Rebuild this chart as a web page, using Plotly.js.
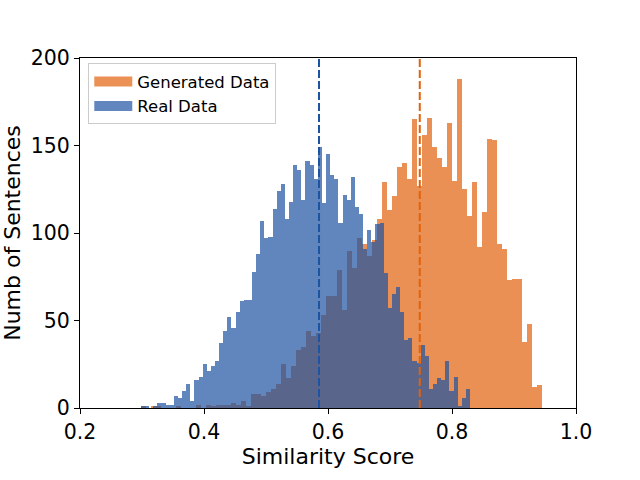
<!DOCTYPE html>
<html>
<head>
<meta charset="utf-8">
<script src="https://cdn.plot.ly/plotly-3.0.1.min.js"></script>
<style>
  html, body { margin: 0; padding: 0; background: #ffffff; }
  #similarity-graph { width: 640px; height: 480px; }
</style>
</head>
<body>
<div id="similarity-graph"></div>
<script>
// Constants
const SIMILARITY_GRAPH_ELEM_ID = "similarity-graph";
const FONT_FAMILY = "DejaVu Sans, Liberation Sans, sans-serif";

const GENERATED_COLOR = "rgb(226,98,12)";
const REAL_COLOR = "rgb(29,84,162)";
const BAR_OPACITY = 0.7;

// Data

// Counts per bin (80 bins each)
const generatedCounts = [
  1, 0, 1, 1, 0, 0, 0, 1, 0, 0, 0, 2, 0, 2, 1, 2, 2, 2, 3, 2,
  4, 1, 8, 8, 7, 9, 11, 14, 25, 17, 24, 33, 35, 44, 41, 43, 53, 64, 64, 79,
  56, 90, 80, 97, 94, 87, 96, 108, 129, 113, 121, 138, 140, 131, 165, 127, 156, 166, 149, 143,
  138, 163, 130, 188, 125, 110, 129, 92, 112, 154, 153, 94, 91, 73, 74, 74, 38, 48, 12, 13,
];
const realCounts = [
  1, 1, 0, 1, 3, 3, 2, 2, 7, 6, 10, 14, 4, 16, 18, 25, 21, 24, 27, 37,
  44, 52, 46, 55, 61, 62, 62, 78, 88, 107, 97, 98, 114, 124, 128, 108, 118, 139, 136, 119,
  141, 139, 131, 149, 117, 145, 133, 131, 106, 122, 119, 132, 115, 111, 91, 102, 95, 105, 106, 77,
  57, 65, 69, 55, 39, 40, 27, 26, 36, 30, 11, 14, 17, 16, 27, 10, 18, 1, 6, 11,
];

// First and last bin edge of each histogram
const generatedRange = [0.2984, 0.9452];
const realRange = [0.2984, 0.829];

// Mean similarity (dashed lines)
const generatedMean = 0.748;
const realMean = 0.5855;

const seriesNames = ["Generated Data", "Real Data"];

const xTickVals = [0.2, 0.4, 0.6, 0.8, 1.0];
const xTickText = ["0.2", "0.4", "0.6", "0.8", "1.0"];
const yTickVals = [0, 50, 100, 150, 200];

// Helpers

/**
 * @description Bin centres and bin width of a histogram from its edge range
 */
function binLayout(range, counts) {
  const size = (range[1] - range[0]) / counts.length;
  const centers = counts.map((_, i) => range[0] + size * (i + 0.5));
  return { centers, size };
}

/**
 * @description Bar trace that draws one histogram
 */
function histogramTrace(name, range, counts, color) {
  const bins = binLayout(range, counts);
  return {
    type: "bar",
    name: name,
    x: bins.centers,
    y: counts,
    width: bins.size,
    marker: { color: color, line: { width: 0 } },
    opacity: BAR_OPACITY,
    showlegend: false,
    hoverinfo: "skip",
  };
}

/**
 * @description Empty trace that only gives a wide legend swatch
 */
function legendTrace(name, color) {
  return {
    type: "scatter",
    mode: "lines",
    name: name,
    x: [null],
    y: [null],
    line: { color: color, width: 11 },
    hoverinfo: "skip",
  };
}

/**
 * @description Dashed vertical line at a mean value
 */
function meanLine(value, color) {
  return {
    type: "line",
    xref: "x",
    yref: "paper",
    x0: value,
    x1: value,
    y0: 0,
    y1: 1,
    line: { color: color, width: 2, dash: "8px,3px" },
  };
}

// Graph

const traces = [
  histogramTrace(seriesNames[0], generatedRange, generatedCounts, GENERATED_COLOR),
  histogramTrace(seriesNames[1], realRange, realCounts, REAL_COLOR),
  legendTrace(seriesNames[0], "rgb(235,145,85)"),
  legendTrace(seriesNames[1], "rgb(97,135,190)"),
];

const axisStyle = {
  showgrid: false,
  zeroline: false,
  showline: true,
  mirror: true,
  linecolor: "#000000",
  linewidth: 1,
  ticks: "outside",
  ticklen: 5,
  tickwidth: 1,
  tickcolor: "#000000",
  tickfont: { family: FONT_FAMILY, size: 20.5, color: "#000000" },
};

const similarityGraphLayout = {
  width: 640,
  height: 480,
  margin: { l: 80, r: 64, t: 58, b: 72 },
  paper_bgcolor: "#ffffff",
  plot_bgcolor: "#ffffff",
  font: { family: FONT_FAMILY, color: "#000000" },
  barmode: "overlay",
  bargap: 0,
  xaxis: {
    ...axisStyle,
    range: [0.2, 1.0],
    tickvals: xTickVals,
    ticktext: xTickText,
    title: {
      text: "Similarity Score",
      font: { family: FONT_FAMILY, size: 22, color: "#000000" },
      standoff: 4,
    },
  },
  yaxis: {
    ...axisStyle,
    range: [0, 200],
    tickvals: yTickVals,
    title: {
      text: "Numb of Sentences",
      font: { family: FONT_FAMILY, size: 22, color: "#000000" },
      standoff: 16,
    },
  },
  legend: {
    x: 0.0167,
    y: 0.985,
    xanchor: "left",
    yanchor: "top",
    itemwidth: 38,
    bgcolor: "rgba(255,255,255,0.8)",
    bordercolor: "#cccccc",
    borderwidth: 1,
    font: { family: FONT_FAMILY, size: 16.5, color: "#000000" },
  },
  shapes: [
    meanLine(realMean, REAL_COLOR),
    meanLine(generatedMean, GENERATED_COLOR),
  ],
  showlegend: true,
};

const config = {
  responsive: false,
  displayModeBar: false,
  staticPlot: true,
};

Plotly.newPlot(SIMILARITY_GRAPH_ELEM_ID, traces, similarityGraphLayout, config);
</script>
</body>
</html>
